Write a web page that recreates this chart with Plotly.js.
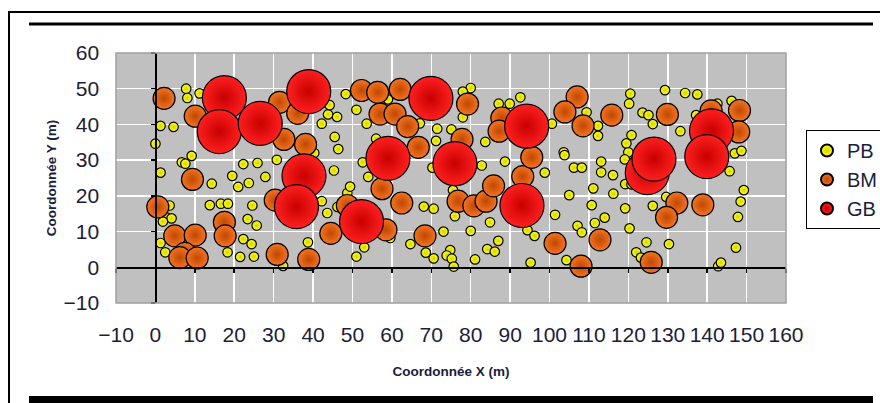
<!DOCTYPE html>
<html>
<head>
<meta charset="utf-8">
<script src="https://cdn.plot.ly/plotly-3.0.1.min.js"></script>
<style>
  html, body { margin: 0; padding: 0; background: #ffffff; }
  #chart { width: 880px; height: 403px; }
</style>
</head>
<body>
<div id="chart"></div>
<script>
// ---- Data ----
var seriesNames = ["PB", "BM", "GB"];

var pbX = [7.8, 8.1, 11.2, 1.3, 4.6, 0.0, 9.2, 6.7, 7.6, 1.3, 14.3, 22.3, 19.5, 21.0, 23.7, 13.8, 16.6, 18.4, 3.6, 2.8, 4.1, 1.9, 23.4, 1.3, 2.5, 22.3, 18.3, 21.5, 24.4,
           48.3, 51.0, 43.8, 46.1, 42.2, 44.2, 53.6, 45.5, 46.4, 25.9, 30.8, 27.9, 45.3, 52.6, 54.0, 48.7, 49.4, 42.2, 43.6, 46.2, 24.6, 25.7, 38.7, 25.0, 53.0, 51.0, 32.4, 40.3, 56.0,
           59.0, 80.0, 78.0, 78.0, 67.1, 71.5, 75.1, 71.2, 83.7, 87.1, 89.9, 92.6, 88.7, 82.8, 70.3, 75.5, 68.1, 70.6, 76.0, 84.9, 73.1, 80.0, 87.0, 64.7, 68.6, 70.6, 74.8, 73.9, 75.2, 75.7, 81.1, 84.2, 86.1, 59.6,
           100.6, 109.4, 112.3, 112.3, 120.5, 120.2, 123.6, 125.1, 126.2, 120.8, 119.5, 120.0, 119.1, 103.6, 103.8, 113.1, 106.2, 108.2, 113.1, 116.1, 98.8, 111.1, 105.0, 116.2, 119.2, 120.8, 110.7, 119.2, 101.4, 114.0, 111.5, 107.1, 108.2, 120.3, 94.4, 96.2, 95.2, 104.3, 122.0, 124.6, 123.2,
           129.3, 134.4, 137.5, 142.6, 146.2, 137.2, 133.2, 147.0, 148.7, 145.7, 149.3, 148.5, 147.8, 126.2, 129.6, 130.3, 147.3, 142.8, 143.5];
var pbY = [50.0, 47.4, 48.7, 39.6, 39.3, 34.6, 31.2, 29.4, 29.0, 26.5, 23.4, 28.9, 25.6, 22.5, 23.6, 17.4, 17.8, 17.8, 17.3, 14.0, 13.7, 12.8, 13.5, 6.8, 4.2, 7.9, 4.2, 2.9, 6.5,
           48.5, 44.1, 42.8, 42.1, 40.2, 45.4, 40.2, 36.5, 33.1, 29.2, 30.1, 25.3, 27.1, 29.4, 25.3, 20.8, 22.6, 18.5, 15.2, 16.9, 17.3, 11.7, 7.0, 3.0, 5.6, 3.0, 0.4, 32.0, 36.0,
           47.0, 50.2, 49.2, 42.0, 40.3, 38.8, 38.6, 35.4, 35.1, 45.8, 45.8, 47.6, 29.6, 28.5, 27.9, 21.6, 17.0, 16.4, 14.3, 12.6, 10.0, 10.2, 7.4, 6.5, 4.1, 2.5, 4.8, 3.3, 2.4, 0.2, 2.2, 5.1, 4.4, 8.2,
           40.2, 43.4, 39.6, 36.8, 48.6, 45.8, 43.3, 42.6, 40.1, 37.0, 34.7, 32.2, 30.2, 32.2, 31.4, 29.6, 27.9, 27.9, 26.6, 25.8, 26.5, 22.1, 20.2, 20.6, 23.3, 23.2, 17.4, 16.5, 14.7, 13.9, 12.4, 11.6, 9.8, 10.9, 10.4, 8.8, 1.3, 2.0, 4.2, 7.0, 2.7,
           49.6, 48.8, 48.4, 45.8, 46.6, 42.6, 38.1, 31.9, 32.6, 26.9, 21.6, 18.4, 14.1, 17.2, 19.7, 6.5, 5.5, 0.3, 1.3];

var bmX = [2.2, 10.1, 9.4, 0.6, 4.9, 10.1, 7.5, 6.2, 10.6, 17.5, 17.7,
           31.5, 36.1, 52.3, 56.4, 62.1, 57.0, 60.8, 64.0, 66.7, 32.6, 38.1, 30.4, 48.7, 44.5, 30.9, 38.9, 57.5, 58.5,
           79.2, 77.8, 87.9, 87.2, 62.5, 76.8, 80.8, 83.9, 85.8, 68.4, 93.2, 95.5,
           107.0, 103.9, 108.5, 115.8, 101.4, 112.8, 108.0, 125.8, 129.9, 148.2, 141.0, 148.0, 132.3, 138.9, 129.7];
var bmY = [47.3, 42.3, 24.6, 16.9, 8.8, 9.0, 3.9, 2.7, 2.6, 12.6, 8.8,
           46.2, 43.1, 49.5, 49.0, 49.8, 42.9, 42.9, 39.4, 33.6, 35.8, 34.4, 18.8, 17.3, 9.5, 3.6, 2.2, 22.0, 10.5,
           45.7, 35.8, 41.8, 38.1, 18.0, 18.5, 17.2, 18.5, 22.8, 8.8, 25.4, 30.8,
           47.7, 43.5, 39.6, 42.6, 6.7, 7.7, 0.3, 1.4, 42.8, 43.9, 43.8, 37.9, 18.0, 17.5, 14.0];

var gbX = [17.5, 16.2, 26.6, 38.9, 37.7, 35.8, 52.3, 59.0, 69.9, 76.0, 94.2, 93.0, 124.8, 126.5, 141.1, 139.9];
var gbY = [47.5, 38.0, 40.3, 49.2, 25.6, 17.0, 12.8, 30.5, 47.3, 29.0, 39.5, 17.3, 26.5, 30.3, 38.2, 31.0];

var xTitle = "Coordonnée X (m)";
var yTitle = "Coordonnée Y (m)";

// ---- Plot ----
var line = { color: "#000000", width: 1.2 };

var traces = [
  { type: "scatter", mode: "markers", name: seriesNames[0], x: pbX, y: pbY,
    marker: { size: 9.5, color: "#ffff20", line: line, gradient: { type: "radial", color: "#d4d400" } } },
  { type: "scatter", mode: "markers", name: seriesNames[1], x: bmX, y: bmY,
    marker: { size: 22, color: "#f47424", line: line, gradient: { type: "radial", color: "#c04800" } } },
  { type: "scatter", mode: "markers", name: seriesNames[2], x: gbX, y: gbY,
    marker: { size: 44, color: "#ff2020", line: line, gradient: { type: "radial", color: "#c80000" } } }
];

var tickFont = { family: "Liberation Sans Narrow, Arial Narrow, Liberation Sans, Arial, sans-serif", size: 21, color: "#1c1c3c" };
var titleFont = { family: "Liberation Sans, Arial, sans-serif", size: 13.5, color: "#1c1c3c", weight: "bold" };

// paper-coordinate helpers for the frame (plot area: 116..786 x 53..303 px)
function px(v) { return (v - 116) / 670; }
function py(v) { return (303 - v) / 250; }

var layout = {
  width: 880, height: 403,
  margin: { l: 116, r: 94, t: 53, b: 100, autoexpand: false },
  paper_bgcolor: "#ffffff",
  plot_bgcolor: "#c0c0c0",
  showlegend: true,
  xaxis: {
    range: [-10, 160], tick0: 0, dtick: 10,
    showgrid: true, gridcolor: "#ffffff", gridwidth: 1.5,
    zeroline: false,
    showline: true, linecolor: "#000000", linewidth: 1.5,
    anchor: "free", position: 10 / 70,
    ticks: "outside", ticklen: 4, tickwidth: 1.5, tickcolor: "#000000",
    ticklabelstandoff: 44,
    tickfont: tickFont,
    title: { text: xTitle, font: titleFont, standoff: 21 }
  },
  yaxis: {
    range: [-10, 60], tick0: 0, dtick: 10,
    showgrid: true, gridcolor: "#ffffff", gridwidth: 1.5,
    zeroline: false,
    showline: true, linecolor: "#000000", linewidth: 1.5,
    anchor: "free", position: 10 / 170,
    ticks: "outside", ticklen: 4, tickwidth: 1.5, tickcolor: "#000000",
    ticklabelstandoff: 48,
    tickfont: tickFont,
    title: { text: yTitle, font: titleFont, standoff: 2 }
  },
  legend: {
    x: px(806), y: py(130), xanchor: "left", yanchor: "top",
    bgcolor: "#ffffff", bordercolor: "#000000", borderwidth: 1,
    font: { family: "Liberation Sans Narrow, Arial Narrow, Liberation Sans, Arial, sans-serif", size: 20, color: "#1c1c3c" },
    itemsizing: "constant", itemwidth: 30, tracegroupgap: 0
  },
  shapes: [
    // plot-area border
    { type: "rect", xref: "paper", yref: "paper", x0: 0, x1: 1, y0: 0, y1: 1,
      line: { color: "#a0a0a0", width: 1.5 }, layer: "above" },
    // document frame lines
    { type: "line", xref: "paper", yref: "paper", x0: px(9), x1: px(880), y0: py(12), y1: py(12),
      line: { color: "#000000", width: 2 }, layer: "above" },
    { type: "line", xref: "paper", yref: "paper", x0: px(9), x1: px(9), y0: py(11), y1: py(405),
      line: { color: "#000000", width: 2 }, layer: "above" },
    { type: "line", xref: "paper", yref: "paper", x0: px(29), x1: px(873), y0: py(24), y1: py(24),
      line: { color: "#000000", width: 3 }, layer: "above" },
    { type: "rect", xref: "paper", yref: "paper", x0: px(29), x1: px(873), y0: py(396), y1: py(406),
      fillcolor: "#000000", line: { width: 0 }, layer: "above" }
  ]
};

Plotly.newPlot("chart", traces, layout, { displayModeBar: false, staticPlot: true });
</script>
</body>
</html>
